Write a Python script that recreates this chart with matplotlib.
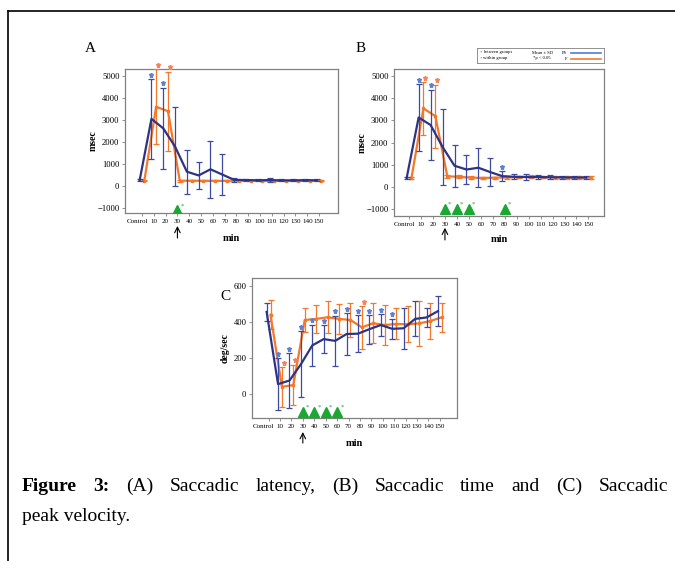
import numpy as np
import matplotlib.pyplot as plt
import matplotlib.transforms as mtransforms

plt.rcParams['font.family'] = ['Liberation Serif', 'DejaVu Serif']

# ---------------- data ----------------
tick_labels = ['Control', '10', '20', '30', '40', '50', '60', '70', '80',
               '90', '100', '110', '120', '130', '140', '150']

# (A) saccadic latency, msec
a_ps_mean = [260, 3050, 2620, 1790, 650, 480, 760, 520, 280, 270, 260, 270, 255, 255, 265, 260]
a_ps_sd = [40, 1800, 1850, 1800, 1000, 600, 1300, 950, 90, 60, 50, 80, 50, 50, 60, 50]
a_f_mean = [250, 3600, 3400, 240, 240, 235, 235, 235, 235, 240, 235, 235, 235, 235, 235, 235]
a_f_sd = [30, 1700, 1800, 40, 30, 30, 30, 30, 30, 30, 30, 30, 30, 30, 30, 30]
a_ps_sig = [1, 2]
a_f_sig = [1, 2]
a_between = [3]

# (B) saccadic time, msec
b_ps_mean = [400, 3130, 2790, 1800, 950, 780, 860, 660, 480, 450, 440, 440, 430, 425, 420, 420]
b_ps_sd = [40, 1500, 1600, 1700, 950, 650, 870, 640, 220, 110, 120, 110, 90, 80, 70, 70]
b_f_mean = [400, 3540, 3190, 470, 450, 410, 400, 410, 420, 440, 450, 440, 430, 420, 420, 410]
b_f_sd = [40, 1180, 1420, 80, 70, 60, 50, 50, 50, 60, 70, 60, 60, 60, 60, 60]
b_ps_sig = [1, 2, 8]
b_f_sig = [1, 2]
b_between = [3, 4, 5, 8]

# (C) saccadic peak velocity, deg/sec
c_ps_mean = [456, 55, 75, 165, 270, 305, 295, 333, 335, 360, 383, 362, 365, 417, 425, 460]
c_ps_sd = [51, 145, 150, 183, 115, 77, 140, 115, 103, 80, 60, 57, 115, 97, 55, 82]
c_f_mean = [440, 40, 50, 411, 417, 426, 417, 411, 370, 393, 383, 389, 387, 392, 405, 426]
c_f_sd = [80, 110, 113, 69, 78, 88, 85, 92, 120, 110, 113, 86, 100, 123, 98, 82]
c_ps_sig = [1, 2, 3, 4, 5, 6, 7, 8, 9, 10, 11]
c_f_sig = [1, 2, 8]
c_between = [3, 4, 5, 6]

caption_words = ['Figure', '3:', '(A)', 'Saccadic', 'latency,', '(B)', 'Saccadic',
                 'time', 'and', '(C)', 'Saccadic']

# ---------------- styles ----------------
PS_LINE = '#2d3485'
PS_ERR = '#3d4aa0'
PS_SIG = '#5b82d6'
F_COL = '#f5782a'
F_SIG = '#f4845a'
GREEN = '#1aa832'
FRAME = '#808080'

W, H = 675, 561
fig = plt.figure(figsize=(W / 100, H / 100), dpi=100)


def px_box(left, top, right, bottom):
    return [left / W, 1 - bottom / H, (right - left) / W, (bottom - top) / H]


def draw_panel(ax, ps_mean, ps_sd, f_mean, f_sd, ps_sig, f_sig, between,
               ylim, xlim, yticks, ylabel, tri_y, dx, ylab_x, xlab_y, arrow):
    x = np.arange(len(tick_labels))
    xb = x - dx
    xo = x + dx
    ps_mean = np.array(ps_mean)
    ps_sd = np.array(ps_sd)
    f_mean = np.array(f_mean)
    f_sd = np.array(f_sd)

    ax.errorbar(xo, f_mean, yerr=f_sd, color=F_COL, lw=1.6, elinewidth=0.9,
                capsize=2, capthick=0.9, marker='s', ms=2, zorder=3)
    ax.errorbar(xb, ps_mean, yerr=ps_sd, color=PS_ERR, lw=0, elinewidth=0.9,
                capsize=2, capthick=0.9, zorder=4)
    ax.plot(xb, ps_mean, color=PS_LINE, lw=1.6, zorder=5)

    off = 0.03 * (ylim[1] - ylim[0])
    for i in ps_sig:
        ax.plot(xb[i], ps_mean[i] + ps_sd[i] + off, marker='*', ms=3.6,
                color=PS_SIG, zorder=6, clip_on=False)
    for i in f_sig:
        ax.plot(xo[i] + 0.15, f_mean[i] + f_sd[i] + off, marker='*', ms=3.6,
                color=F_SIG, zorder=6, clip_on=False)
    for i in between:
        ax.plot(x[i], tri_y, marker='^', ms=6.5, color=GREEN, zorder=6)
        ax.annotate('*', (x[i], tri_y), xytext=(3.5, 3), textcoords='offset points',
                    color=GREEN, fontsize=5, ha='center', va='center')

    ax.set_xlim(*xlim)
    ax.set_ylim(*ylim)
    ax.set_xticks(x)
    ax.set_xticklabels(tick_labels)
    ax.set_yticks(yticks)
    ax.tick_params(length=2, width=0.6, color=FRAME, pad=2)
    ax.tick_params(axis='x', labelsize=5)
    ax.tick_params(axis='y', labelsize=6.2)
    # Control label sits a little left of its tick
    lab = ax.get_xticklabels()[0]
    lab.set_transform(lab.get_transform() +
                      mtransforms.ScaledTranslation(-5 / 100, 0, fig.dpi_scale_trans))
    for s in ax.spines.values():
        s.set_color(FRAME)
        s.set_linewidth(0.9)

    ax.text(ylab_x, 0.5, ylabel, transform=ax.transAxes, rotation=90,
            fontsize=7, fontweight='bold', ha='center', va='center')
    ax.text(0.5, xlab_y, 'min', transform=ax.transAxes, fontsize=7.5,
            fontweight='bold', ha='center', va='center')
    ax.annotate('', xy=(3, arrow[0]), xytext=(3, arrow[1]),
                xycoords=('data', 'axes fraction'), textcoords=('data', 'axes fraction'),
                arrowprops=dict(arrowstyle='->', lw=0.8, color='black',
                                shrinkA=0, shrinkB=0))


ax_a = fig.add_axes(px_box(125, 69, 338, 213))
draw_panel(ax_a, a_ps_mean, a_ps_sd, a_f_mean, a_f_sd, a_ps_sig, a_f_sig, a_between,
           (-1227, 5318), (-1.44, 16.6), [-1000, 0, 1000, 2000, 3000, 4000, 5000],
           'msec', -1090, 0.2, -0.15, -0.18, (-0.09, -0.174))

ax_b = fig.add_axes(px_box(394, 69, 604, 216))
draw_panel(ax_b, b_ps_mean, b_ps_sd, b_f_mean, b_f_sd, b_ps_sig, b_f_sig, b_between,
           (-1320, 5320), (-1.26, 16.3), [-1000, 0, 1000, 2000, 3000, 4000, 5000],
           'msec', -990, 0.2, -0.15, -0.159, (-0.08, -0.163))

ax_c = fig.add_axes(px_box(252, 278, 457, 418))
draw_panel(ax_c, c_ps_mean, c_ps_sd, c_f_mean, c_f_sd, c_ps_sig, c_f_sig, c_between,
           (-133, 644), (-1.45, 16.5), [0, 200, 400, 600],
           'deg/sec', -98, 0.17, -0.132, -0.18, (-0.1, -0.179))

# panel letters
fig.text(90 / W, 1 - 48 / H, 'A', fontsize=11, ha='center', va='center')
fig.text(361 / W, 1 - 48 / H, 'B', fontsize=11, ha='center', va='center')
fig.text(225 / W, 1 - 296 / H, 'C', fontsize=11, ha='center', va='center')

# legend box of panel B
lg = fig.add_axes(px_box(477, 48, 604, 63))
lg.set_xlim(0, 1)
lg.set_ylim(0, 1)
lg.set_xticks([])
lg.set_yticks([])
for s in lg.spines.values():
    s.set_color(FRAME)
    s.set_linewidth(0.6)
lfs = 3.3
lg.text(0.03, 0.7, '*', color=GREEN, fontsize=lfs, ha='center', va='center')
lg.text(0.03, 0.3, '*', color=PS_SIG, fontsize=lfs, ha='center', va='center')
lg.text(0.05, 0.7, 'between groups', fontsize=lfs, va='center')
lg.text(0.05, 0.3, 'within group', fontsize=lfs, va='center')
lg.text(0.43, 0.7, 'Mean ± SD', fontsize=lfs, va='center')
lg.text(0.44, 0.3, '*p < 0.05', fontsize=lfs, va='center')
lg.text(0.67, 0.7, 'PS', fontsize=lfs, va='center')
lg.text(0.69, 0.3, 'F', fontsize=lfs, va='center')
lg.plot([0.74, 0.98], [0.7, 0.7], color='#4a7fd4', lw=1.2)
lg.plot([0.74, 0.98], [0.3, 0.3], color=F_COL, lw=1.2)

# outer frame (top and left edges)
fig.add_artist(plt.Line2D([8 / W, 8 / W], [0, 1 - 11 / H], color='black', lw=1.2))
fig.add_artist(plt.Line2D([8 / W, 1], [1 - 11 / H, 1 - 11 / H], color='black', lw=1.2))

# caption, first line justified
cap_fs = 14
fig.canvas.draw()
renderer = fig.canvas.get_renderer()
words = []
for i, w in enumerate(caption_words):
    fw = 'bold' if i < 2 else 'normal'
    words.append(fig.text(0, 1 - 491 / H, w, fontsize=cap_fs, fontweight=fw, va='baseline'))
widths = [t.get_window_extent(renderer).width for t in words]
x_left, x_right = 22, 668
gap = (x_right - x_left - sum(widths)) / (len(words) - 1)
xpos = x_left
for t, wd in zip(words, widths):
    t.set_x(xpos / W)
    xpos += wd + gap
fig.text(x_left / W, 1 - 521 / H, 'peak velocity.', fontsize=cap_fs, va='baseline')

fig.savefig('out.png', dpi=100)
